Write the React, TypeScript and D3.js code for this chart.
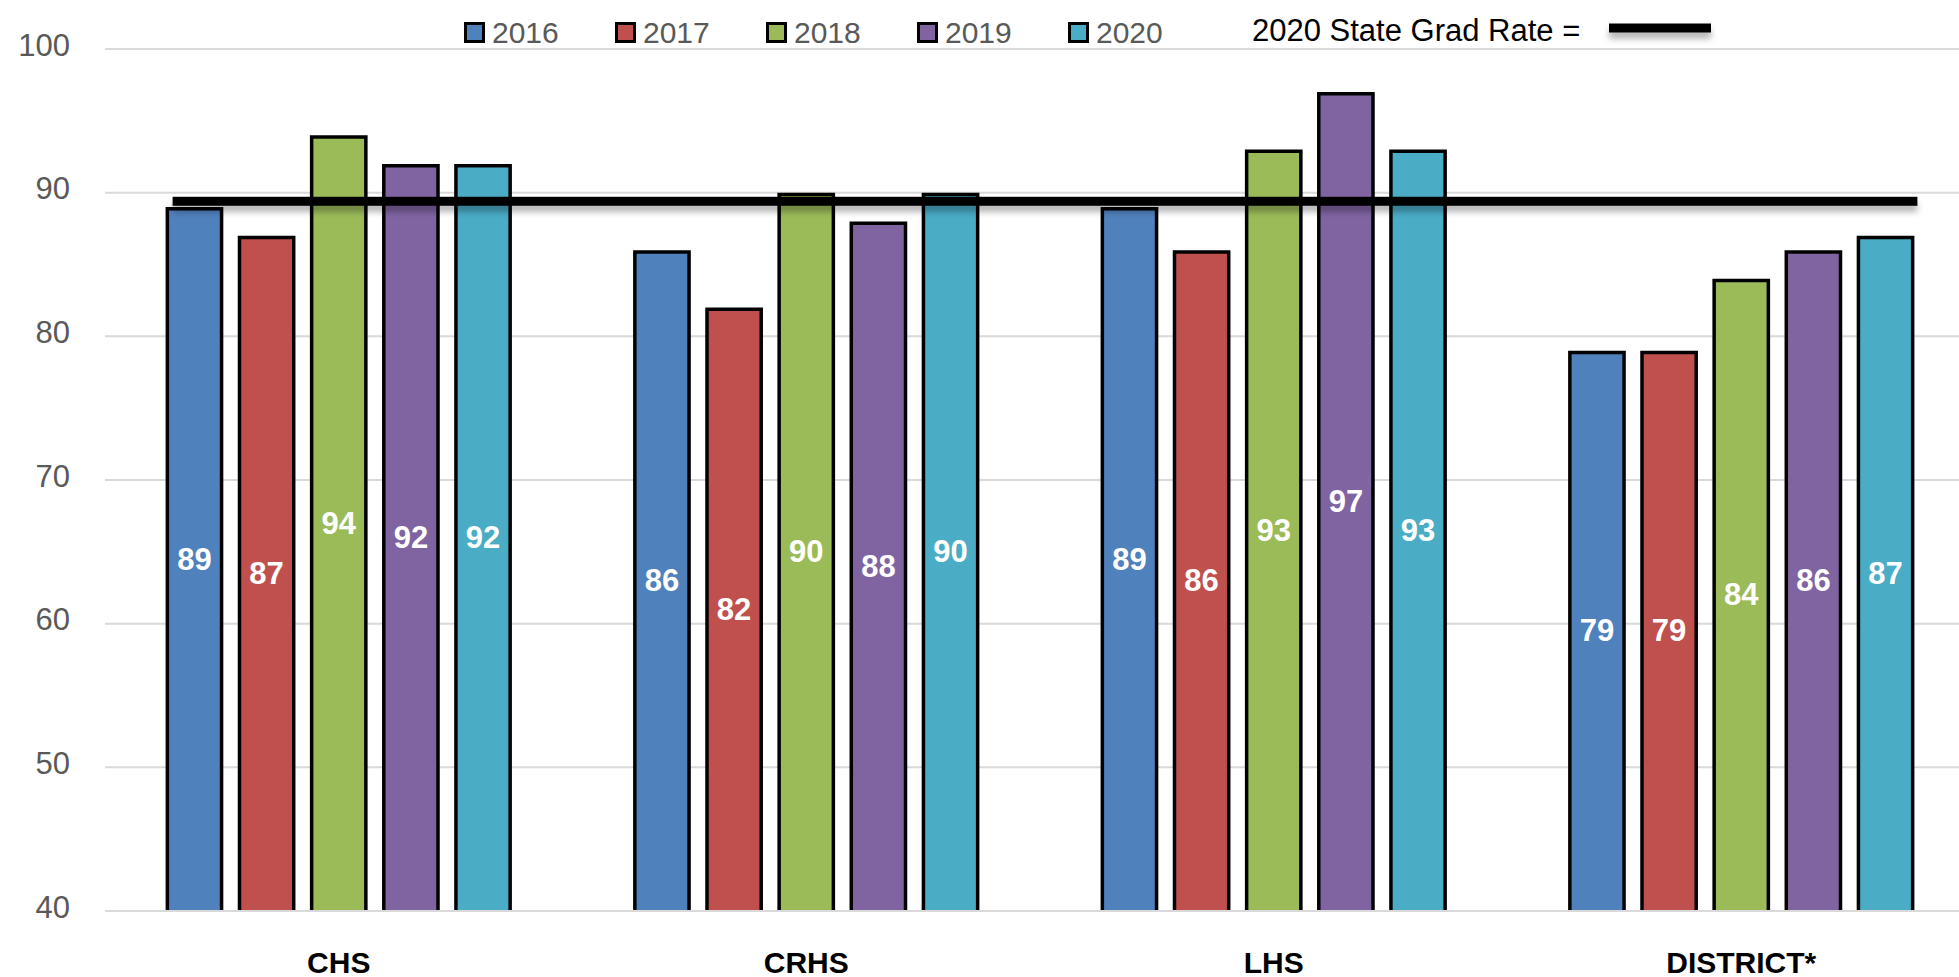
import React from 'react'
import * as d3 from 'd3'

// chart data
const schools = ['CHS', 'CRHS', 'LHS', 'DISTRICT*']
const years = ['2016', '2017', '2018', '2019', '2020']
const rate2016 = [89, 86, 89, 79]
const rate2017 = [87, 82, 86, 79]
const rate2018 = [94, 90, 93, 84]
const rate2019 = [92, 88, 97, 86]
const rate2020 = [92, 90, 93, 87]
const stateGradRate = 89.4
const yTicks = [40, 50, 60, 70, 80, 90, 100]

const seriesValues = [rate2016, rate2017, rate2018, rate2019, rate2020]
const colors = ['#4F81BD', '#C0504D', '#9BBB59', '#8064A2', '#4BACC6']

const W = 1959
const H = 977
const font = '"Liberation Sans", Arial, sans-serif'

export default function App() {
    // scales
    const x0 = d3.scaleBand<string>()
        .domain(schools)
        .range([105, 1975])
        .padding(0)

    const x1 = d3.scaleBand<string>()
        .domain(years)
        .range([0, x0.bandwidth()])
        .paddingInner(0.2)
        .paddingOuter(0.84)

    const y = d3.scaleLinear()
        .domain([40, 100])
        .range([911, 49])

    const sw = 3.5
    const bw = x1.bandwidth()
    const lineW = 9

    // state line spans (roughly) from first bar to last bar
    const lineStart = (x0(schools[0]) || 0) + (x1(years[0]) || 0) + 7
    const lineEnd = (x0(schools[schools.length - 1]) || 0) + (x1(years[years.length - 1]) || 0) + bw + 3

    return (
        <svg width={W} height={H} style={{position: 'absolute', left: 0, top: 0, background: '#fff'}}>
            <defs>
                <filter id="shadow" filterUnits="userSpaceOnUse" x={0} y={0} width={W} height={H}>
                    <feDropShadow dx="0" dy="6" stdDeviation="3" floodColor="#000" floodOpacity="0.3" />
                </filter>
            </defs>

            {/* gridlines + y labels */}
            {yTicks.map(t => (
                <g key={t}>
                    <line x1={105} x2={W} y1={y(t)} y2={y(t)} stroke="#d9d9d9" strokeWidth={2} />
                    <text x={70} y={y(t) - 4} textAnchor="end" dominantBaseline="central"
                        fontFamily={font} fontSize={31} fill="#595959">{t}</text>
                </g>
            ))}

            {/* bars */}
            {schools.map((s, i) => (
                <g key={s} transform={`translate(${x0(s)},0)`}>
                    {years.map((yr, j) => {
                        const v = seriesValues[j][i]
                        const bx = (x1(yr) || 0)
                        const top = y(v) + sw / 2
                        const bottom = y(40) - 1
                        return (
                            <g key={yr}>
                                <rect x={bx + sw / 2} y={top} width={bw - sw} height={bottom - top} fill={colors[j]} />
                                <path d={`M${bx + sw / 2},${bottom} V${top} H${bx + bw - sw / 2} V${bottom}`}
                                    fill="none" stroke="#000" strokeWidth={sw} />
                                <text x={bx + bw / 2} y={(y(v) + y(40)) / 2} textAnchor="middle" dominantBaseline="central"
                                    fontFamily={font} fontSize={31} fontWeight="bold" fill="#fff">{v}</text>
                            </g>
                        )
                    })}
                    <text x={x0.bandwidth() / 2} y={962} textAnchor="middle" dominantBaseline="central"
                        fontFamily={font} fontSize={30} fontWeight="bold" fill="#000">{s}</text>
                </g>
            ))}

            {/* state grad rate line */}
            <rect x={lineStart} width={lineEnd - lineStart} y={y(stateGradRate) - lineW / 2} height={lineW}
                fill="#000" filter="url(#shadow)" />

            {/* legend */}
            {years.map((yr, j) => (
                <g key={yr} transform={`translate(${464 + j * 151},0)`}>
                    <rect x={1.5} y={23.5} width={18} height={18} fill={colors[j]} stroke="#000" strokeWidth={3} />
                    <text x={28} y={32} dominantBaseline="central" fontFamily={font} fontSize={30} fill="#595959">{yr}</text>
                </g>
            ))}
            <text x={1252} y={30} dominantBaseline="central" fontFamily={font} fontSize={31} fill="#000">2020 State Grad Rate =</text>
            <rect x={1609} width={102} y={28 - lineW / 2} height={lineW} fill="#000" filter="url(#shadow)" />
        </svg>
    )
}
